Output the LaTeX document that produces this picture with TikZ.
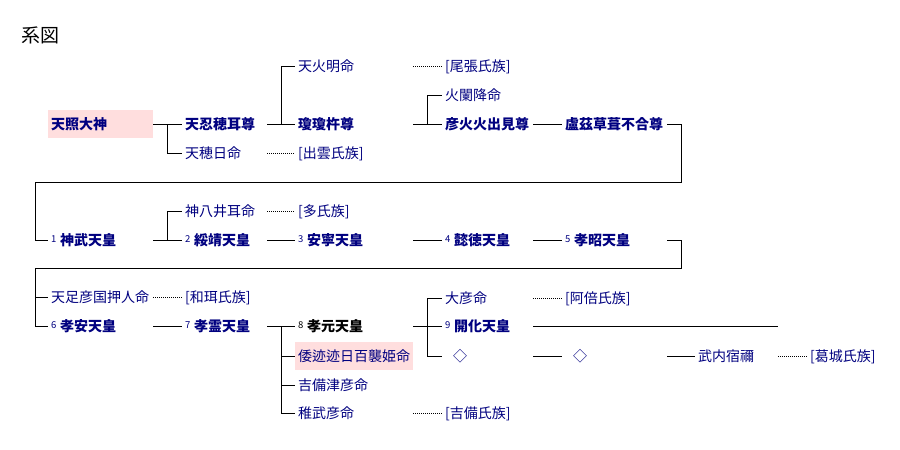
\documentclass[tikz,border=0pt]{standalone}
\usepackage{fontspec}
\setmainfont{Noto Sans CJK JP}
\usetikzlibrary{calc}
\definecolor{navyc}{RGB}{0,0,128}
\definecolor{pinkc}{RGB}{255,222,222}
\newcommand{\numb}[1]{\makebox[9pt][l]{\raisebox{3pt}{\fontsize{9.5}{10}\selectfont\mdseries #1}}}
\begin{document}
\begin{tikzpicture}[x=1pt,y=-1pt,
  cell/.style={anchor=west, inner xsep=3pt, inner ysep=0pt, minimum height=28pt,
    text width=#1, align=left, text height=11pt, text depth=1pt, text=navyc,
    font=\fontsize{14}{16}\selectfont},
  bold/.style={font=\fontsize{14}{16}\selectfont\bfseries},
  hl/.style={fill=pinkc},
  link/.style={line width=1pt},
  dots/.style={line width=1pt, dash pattern=on 1pt off 1pt}]
\path[fill=white, use as bounding box] (0,0) rectangle (900,450);
\node[anchor=west, inner sep=0pt, font=\fontsize{19}{20}\selectfont] (title) at (21,35) {系図};
% row 1
\node[cell=99pt, hl, bold] (amaterasu) at (48,124) {天照大神};
\node[cell=79pt, bold] (oshihomimi) at (182,124) {天忍穂耳尊};
\node[cell=79pt] (hohi) at (182,153) {天穂日命};
\node[cell=112pt] (izumo) at (295,153) {[出雲氏族]};
\node[cell=112pt, bold] (ninigi) at (295,124) {瓊瓊杵尊};
\node[cell=112pt] (honoakari) at (295,66) {天火明命};
\node[cell=85pt] (owari) at (442,66) {[尾張氏族]};
\node[cell=85pt] (honosusori) at (442,95) {火闌降命};
\node[cell=85pt, bold] (hohodemi) at (442,124) {彦火火出見尊};
\node[cell=99pt, bold] (ugaya) at (562,124) {盧茲草葺不合尊};
% row 2
\node[cell=99pt, bold] (jimmu) at (48,240) {\numb{1}神武天皇};
\node[cell=79pt] (yaimimi) at (182,211) {神八井耳命};
\node[cell=112pt] (oclan) at (295,211) {[多氏族]};
\node[cell=79pt, bold] (suizei) at (182,240) {\numb{2}綏靖天皇};
\node[cell=112pt, bold] (annei) at (295,240) {\numb{3}安寧天皇};
\node[cell=85pt, bold] (itoku) at (442,240) {\numb{4}懿徳天皇};
\node[cell=99pt, bold] (kosho) at (562,240) {\numb{5}孝昭天皇};
% row 3
\node[cell=99pt] (tarashi) at (48,297) {天足彦国押人命};
\node[cell=79pt] (wani) at (182,297) {[和珥氏族]};
\node[cell=99pt, bold] (koan) at (48,326) {\numb{6}孝安天皇};
\node[cell=79pt, bold] (korei) at (182,326) {\numb{7}孝霊天皇};
\node[cell=112pt, bold, text=black] (kogen) at (295,326) {\numb{8}孝元天皇};
\node[cell=112pt, hl] (yamato) at (295,356) {倭迹迹日百襲姫命};
\node[cell=112pt] (kibitsu) at (295,385) {吉備津彦命};
\node[cell=112pt] (wakatake) at (295,413) {稚武彦命};
\node[cell=85pt] (kibi) at (442,413) {[吉備氏族]};
\node[cell=85pt] (ohiko) at (442,298) {大彦命};
\node[cell=99pt] (abe) at (562,298) {[阿倍氏族]};
\node[cell=85pt, bold] (kaika) at (442,326) {\numb{9}開化天皇};
\coordinate (kaikaend) at (778,326);
\node[cell=85pt] (dia1) at (442,356) {\hspace{8pt}◇};
\node[cell=99pt] (dia2) at (562,356) {\hspace{8pt}◇};
\node[cell=77pt] (takeuchi) at (695,356) {武内宿禰};
\node[cell=75pt] (katsuragi) at (807,356) {[葛城氏族]};
% connectors row 1
\draw[link] (amaterasu.east) -- (oshihomimi.west);
\draw[link] ($(amaterasu.east)!.5!(oshihomimi.west)$) |- (hohi.west);
\draw[dots] (hohi.east) -- (izumo.west);
\draw[link] (oshihomimi.east) -- (ninigi.west);
\draw[link] ($(oshihomimi.east)!.5!(ninigi.west)$) |- (honoakari.west);
\draw[dots] (honoakari.east) -- (owari.west);
\draw[link] (ninigi.east) -- (hohodemi.west);
\draw[link] ($(ninigi.east)!.5!(hohodemi.west)$) |- (honosusori.west);
\draw[link] (hohodemi.east) -- (ugaya.west);
\coordinate (t1) at (681,182);
\coordinate (t2) at (35,182);
\draw[link] (ugaya.east) -| (t1) -- (t2) |- (jimmu.west);
% connectors row 2
\draw[link] (jimmu.east) -- (suizei.west);
\draw[link] ($(jimmu.east)!.5!(suizei.west)$) |- (yaimimi.west);
\draw[dots] (yaimimi.east) -- (oclan.west);
\draw[link] (suizei.east) -- (annei.west);
\draw[link] (annei.east) -- (itoku.west);
\draw[link] (itoku.east) -- (kosho.west);
\coordinate (t3) at (681,268);
\coordinate (t4) at (35,268);
\draw[link] (kosho.east) -| (t3) -- (t4) |- (koan.west);
\draw[link] (t4) |- (tarashi.west);
% connectors row 3
\draw[dots] (tarashi.east) -- (wani.west);
\draw[link] (koan.east) -- (korei.west);
\draw[link] (korei.east) -- (kogen.west);
\coordinate (j8) at ($(korei.east)!.5!(kogen.west)$);
\draw[link] (j8) |- (yamato.west);
\draw[link] (j8) |- (kibitsu.west);
\draw[link] (j8) |- (wakatake.west);
\draw[dots] (wakatake.east) -- (kibi.west);
\draw[link] (kogen.east) -- (kaika.west);
\coordinate (j9) at ($(kogen.east)!.5!(kaika.west)$);
\draw[link] (j9) |- (ohiko.west);
\draw[link] (j9) |- (dia1.west);
\draw[dots] (ohiko.east) -- (abe.west);
\draw[link] (kaika.east) -- (kaikaend);
\draw[link] (dia1.east) -- (dia2.west);
\draw[link] (dia2.east) -- (takeuchi.west);
\draw[dots] (takeuchi.east) -- (katsuragi.west);
\end{tikzpicture}
\end{document}
